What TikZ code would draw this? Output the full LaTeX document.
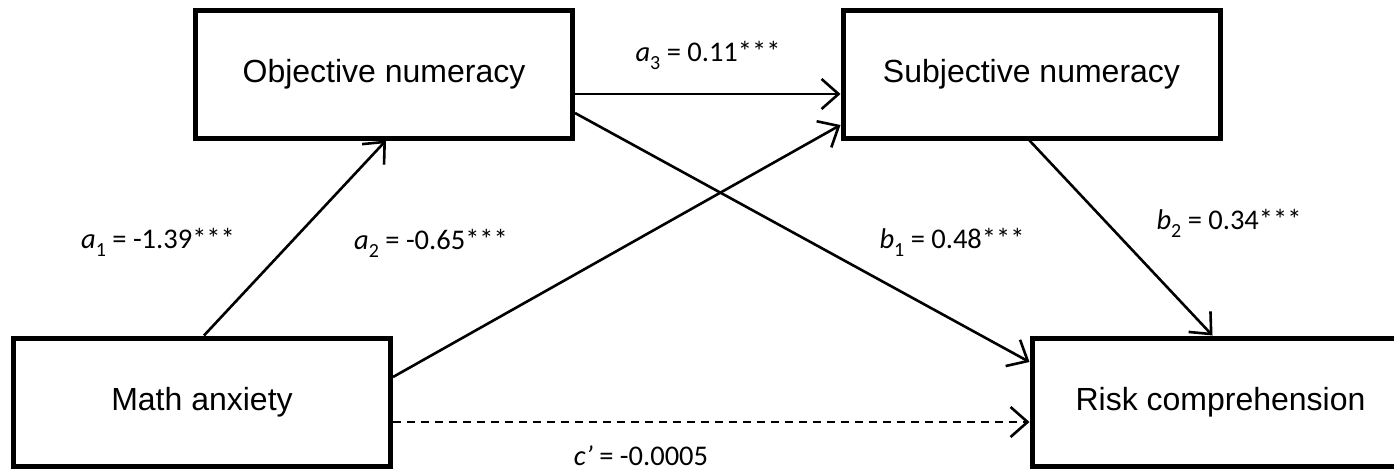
\documentclass[tikz,border=0pt]{standalone}
\usepackage{fontspec}
\setmainfont{Liberation Sans}
\newfontfamily\lblfont{Carlito}
\usetikzlibrary{arrows.meta,calc}
\newcommand{\sbx}[1]{\raisebox{-0.28em}{\fontsize{20}{20}\selectfont #1}}
\begin{document}
\begin{tikzpicture}[x=1pt,y=-1pt,
  box/.style={draw, line width=5pt, minimum width=377pt, minimum height=128pt, inner sep=0pt, font=\fontsize{32}{38}\selectfont},
  conn/.style={line width=2.6pt, -{Straight Barb[length=17pt,width=30pt,line width=2.6pt]}},
  lbl/.style={font=\lblfont\fontsize{28.5}{32}\selectfont, inner sep=0pt}]
\useasboundingbox (0,0) rectangle (1394,471);
\clip (0,0) rectangle (1394,471);
\node[box] (obj) at (384,74) {Objective numeracy};
\node[box] (subj) at (1031.5,74) {Subjective numeracy};
\node[box] (math) at (202,402) {Math anxiety};
\node[box] (risk) at (1220.5,402) {Risk comprehension};
% connectors
\draw[conn] ($(math.north)+(2,0)$) -- ($(obj.south)+(2,0)$);
\draw[conn] ($(math.east)+(0,-25)$) -- ($(subj.west)+(0,51)$);
\draw[conn] ($(obj.east)+(0,20)$) -- ($(subj.west)+(0,20)$);
\draw[conn] ($(obj.east)+(0,39)$) -- ($(risk.west)+(0,-40)$);
\draw[conn] ($(subj.south)+(-2,0)$) -- ($(risk.north)+(-8,0)$);
\draw[conn, dash pattern=on 8pt off 6pt] ($(math.east)+(0,20)$) -- ($(risk.west)+(0,20)$);
% labels
\node[lbl] (la3) at (708,55) {\textit{a}\sbx{3} = 0.11***};
\node[lbl] (la1) at (158,242) {\textit{a}\sbx{1} = -1.39***};
\node[lbl] (la2) at (431,243) {\textit{a}\sbx{2} = -0.65***};
\node[lbl] (lb1) at (952,242) {\textit{b}\sbx{1} = 0.48***};
\node[lbl] (lb2) at (1229,223) {\textit{b}\sbx{2} = 0.34***};
\node[lbl] (lc) at (641,456) {\textit{c’} = -0.0005};
\end{tikzpicture}
\end{document}
